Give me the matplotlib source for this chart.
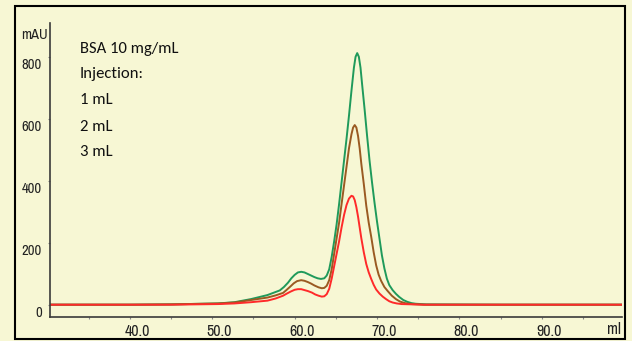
import matplotlib
matplotlib.use('Agg')
import matplotlib.pyplot as plt
from matplotlib.patches import Rectangle
from matplotlib.transforms import ScaledTranslation
from matplotlib.ticker import MultipleLocator, FormatStrFormatter

# elution volume (ml) and absorbance (mAU)
vol_3ml = [30.3, 40, 45, 50.7, 52.7, 54.7, 56.7, 57.5, 58.2, 58.7, 59.2, 59.6, 60.0, 60.4,
           60.8, 61.2, 61.6, 62.0, 62.4, 62.8, 63.2, 63.6, 63.9, 64.2, 64.5, 64.8, 65.1,
           65.4, 65.7, 66.0, 66.3, 66.6, 66.9, 67.2, 67.4, 67.6, 67.8, 68.0, 68.2, 68.5,
           68.8, 69.1, 69.4, 69.7, 70.0, 70.3, 70.6, 70.9, 71.2, 71.5, 71.9, 72.3, 72.7,
           73.2, 73.7, 74.2, 74.7, 76, 85, 99.75]
abs_3ml = [1, 1, 2, 5, 9, 19, 32, 40, 47, 58, 72, 86, 97, 105,
           107, 105, 100, 95, 90, 86, 84, 86, 95, 115, 155, 205, 260,
           325, 395, 465, 535, 610, 690, 765, 800, 812, 800, 765, 710, 630,
           545, 465, 395, 330, 270, 215, 160, 118, 85, 64, 48, 36, 26,
           16, 10, 6, 4, 2, 1, 1]

vol_2ml = [30.3, 40, 45, 50.7, 52.7, 54.7, 56.7, 57.7, 58.6, 59.0, 59.5, 59.9, 60.3, 60.8,
           61.2, 61.6, 62.0, 62.4, 62.9, 63.3, 63.6, 63.9, 64.2, 64.5, 64.8, 65.1, 65.4,
           65.7, 66.0, 66.3, 66.6, 66.9, 67.1, 67.3, 67.5, 67.7, 67.9, 68.1, 68.4, 68.7,
           69.0, 69.3, 69.6, 69.9, 70.2, 70.5, 70.9, 71.3, 71.8, 72.3, 72.8, 73.4, 74.2,
           75.7, 85, 99.75]
abs_2ml = [1, 1, 2, 5, 8, 16, 24, 31, 39, 48, 60, 70, 77, 80,
           78, 74, 69, 63, 57, 54, 55, 62, 80, 115, 165, 215, 265,
           325, 385, 445, 505, 550, 572, 580, 572, 545, 505, 455, 390, 320,
           265, 220, 170, 128, 98, 78, 58, 45, 30, 19, 11, 6, 3,
           1, 1, 1]

vol_1ml = [30.3, 40, 45, 50.7, 52.7, 54.7, 56.7, 57.7, 58.6, 59.0, 59.5, 60.0, 60.4, 60.8,
           61.2, 61.6, 62.1, 62.5, 62.9, 63.3, 63.6, 63.9, 64.2, 64.5, 64.8, 65.1, 65.4,
           65.7, 66.0, 66.3, 66.6, 66.9, 67.1, 67.3, 67.5, 67.7, 67.9, 68.1, 68.4, 68.7,
           69.0, 69.3, 69.6, 69.9, 70.3, 70.7, 71.1, 71.5, 71.9, 72.4, 73.0, 75.7, 85, 99.75]
abs_1ml = [1, 1, 1, 3, 5, 9, 14, 21, 30, 36, 43, 49, 51, 51,
           48, 45, 40, 34, 30, 27, 28, 35, 52, 85, 125, 165, 205,
           250, 290, 322, 343, 352, 350, 338, 315, 285, 250, 215, 170, 132,
           105, 84, 65, 50, 37, 27, 19, 12, 8, 5, 3, 1, 1, 1]

notes = ['BSA 10 mg/mL', 'Injection:', '1 mL', '2 mL', '3 mL']

bg = '#F7F7D4'
narrow = ['Liberation Sans Narrow', 'Archivo Narrow', 'Liberation Sans']
humanist = ['Carlito', 'Lato', 'DejaVu Sans']

fig = plt.figure(figsize=(6.32, 3.41), dpi=100, facecolor=bg)
ax = fig.add_axes([50/632, 1 - 317/341, (622 - 50)/632, (317 - 23)/341])
ax.set_facecolor(bg)

ax.plot(vol_3ml, abs_3ml, color='#1F9A5B', lw=1.4)
ax.plot(vol_2ml, abs_2ml, color='#9A5A22', lw=1.4)
ax.plot(vol_1ml, abs_1ml, color='#FF2A2A', lw=1.4)

ax.set_xlim(30.3, 99.75)
ax.set_ylim(-38.7, 909)

for s in ['top', 'right']:
    ax.spines[s].set_visible(False)
for s in ['left', 'bottom']:
    ax.spines[s].set_color('#3a3a3a')
    ax.spines[s].set_linewidth(1.2)

ax.xaxis.set_major_locator(MultipleLocator(10))
ax.xaxis.set_minor_locator(MultipleLocator(5))
ax.xaxis.set_major_formatter(FormatStrFormatter('%.1f'))
ax.set_xticks([40, 50, 60, 70, 80, 90])
ax.set_yticks([0, 200, 400, 600, 800])
ax.tick_params(axis='both', which='both', length=1.5, width=0.8, color='#888888', labelcolor='#222222')
ax.tick_params(axis='x', pad=3.5, labelsize=11.5)
ax.tick_params(axis='y', pad=4.3, labelsize=10.5)

for lab in ax.get_xticklabels():
    lab.set_family(narrow)
    lab.set_transform(lab.get_transform() + ScaledTranslation(7/100, 0, fig.dpi_scale_trans))
for lab in ax.get_yticklabels():
    lab.set_family(narrow)
    lab.set_transform(lab.get_transform() + ScaledTranslation(0, -7/100, fig.dpi_scale_trans))

fig.text(34/632, 1 - 35/341, 'mAU', ha='center', va='center', fontsize=10.5,
         family=narrow, color='#222222')
fig.text(614/632, 1 - 330/341, 'ml', ha='center', va='center', fontsize=11.5,
         family=narrow, color='#222222')

line_y = [49, 74, 100, 127, 152]
for txt, py in zip(notes, line_y):
    fig.text(80/632, 1 - py/341, txt, ha='left', va='center', fontsize=12,
             family=humanist, color='#111111')

fig.add_artist(Rectangle((15/632, 2/341), (625 - 15)/632, (337 - 4)/341,
                         transform=fig.transFigure, fill=False, ec='black', lw=1.5))

fig.savefig('out.png', dpi=100, facecolor=bg)
